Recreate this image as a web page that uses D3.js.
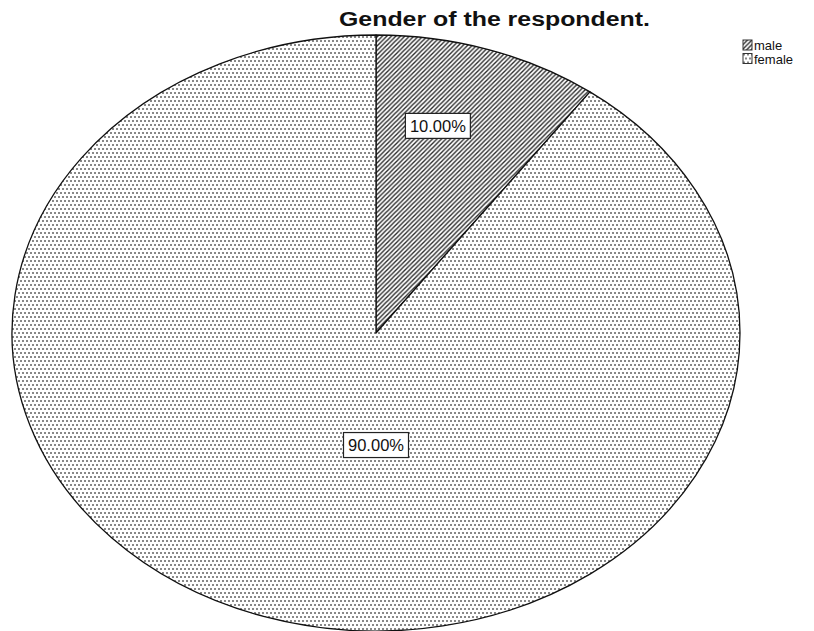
<!DOCTYPE html>
<html>
<head>
<meta charset="utf-8">
<script src="https://cdn.jsdelivr.net/npm/d3@7"></script>
<style>
  body { margin: 0; background: #fff; }
  svg { display: block; font-family: "Liberation Sans", Arial, sans-serif; }
</style>
</head>
<body>
<div id="chart"></div>
<script>
const categories = ["male", "female"];
const percents = [10, 90];
const labels = ["10.00%", "90.00%"];

const W = 814, H = 631;
const cx = 376, cy = 333, rx = 364, ry = 298;

const svg = d3.select("#chart").append("svg")
  .attr("width", W)
  .attr("height", H);

const defs = svg.append("defs");

// diagonal hatch for male
const hatch = defs.append("pattern")
  .attr("id", "hatch")
  .attr("patternUnits", "userSpaceOnUse")
  .attr("width", 4.5)
  .attr("height", 4.5);
hatch.append("rect").attr("width", 4.5).attr("height", 4.5).attr("fill", "#fff");
hatch.append("path")
  .attr("d", "M-1,1 L1,-1 M0,4.5 L4.5,0 M3.5,5.5 L5.5,3.5")
  .attr("stroke", "#2a2a2a")
  .attr("stroke-width", 1.4);

// dotted fill for female
const dots = defs.append("pattern")
  .attr("id", "dots")
  .attr("patternUnits", "userSpaceOnUse")
  .attr("width", 4)
  .attr("height", 8);
dots.append("rect").attr("width", 4).attr("height", 8).attr("fill", "#fff");
dots.append("rect").attr("x", 0).attr("y", 0).attr("width", 2).attr("height", 2).attr("fill", "#888");
dots.append("rect").attr("x", 2).attr("y", 4).attr("width", 2).attr("height", 2).attr("fill", "#888");

const fills = d3.scaleOrdinal().domain(categories).range(["url(#hatch)", "url(#dots)"]);

const pie = d3.pie().sort(null).value(d => d.value);
const arcs = pie(categories.map((c, i) => ({ cat: c, value: percents[i], label: labels[i] })));

// point on the ellipse for a pie angle (0 = top, clockwise)
function pt(a) {
  return [cx + rx * Math.sin(a), cy - ry * Math.cos(a)];
}

function slicePath(d) {
  const [x0, y0] = pt(d.startAngle);
  const [x1, y1] = pt(d.endAngle);
  const large = d.endAngle - d.startAngle > Math.PI ? 1 : 0;
  return `M${cx},${cy} L${x0},${y0} A${rx},${ry} 0 ${large} 1 ${x1},${y1} Z`;
}

svg.selectAll("path.slice")
  .data(arcs)
  .join("path")
  .attr("class", "slice")
  .attr("d", slicePath)
  .attr("fill", d => fills(d.data.cat))
  .attr("stroke", "#111")
  .attr("stroke-width", 1.3)
  .attr("stroke-linejoin", "round");

// label anchor points (relative to radii), as SPSS places them
const labelSpot = { male: [0.17, -0.695], female: [0, 0.376] };

const lab = svg.selectAll("g.lab")
  .data(arcs)
  .join("g")
  .attr("class", "lab")
  .attr("transform", d => `translate(${cx + rx * labelSpot[d.data.cat][0]},${cy + ry * labelSpot[d.data.cat][1]})`);

lab.append("rect")
  .attr("x", -32.5)
  .attr("y", -12.5)
  .attr("width", 65)
  .attr("height", 25)
  .attr("fill", "#fff")
  .attr("stroke", "#222")
  .attr("stroke-width", 1.2);

lab.append("text")
  .attr("text-anchor", "middle")
  .attr("y", 6)
  .attr("font-size", 16.5)
  .attr("fill", "#111")
  .text(d => d.data.label);

// title
svg.append("text")
  .attr("x", 339)
  .attr("y", 26)
  .attr("font-size", 20)
  .attr("font-weight", "bold")
  .attr("fill", "#111")
  .attr("textLength", 311)
  .attr("lengthAdjust", "spacingAndGlyphs")
  .text("Gender of the respondent.");

// legend
const leg = svg.selectAll("g.leg")
  .data(categories)
  .join("g")
  .attr("class", "leg")
  .attr("transform", (d, i) => `translate(743,${40 + i * 13.5})`);

leg.append("rect")
  .attr("width", 9)
  .attr("height", 10)
  .attr("fill", d => fills(d))
  .attr("stroke", "#333")
  .attr("stroke-width", 1);

leg.append("text")
  .attr("x", 11)
  .attr("y", 10)
  .attr("font-size", 13)
  .attr("fill", "#111")
  .text(d => d);
</script>
</body>
</html>
